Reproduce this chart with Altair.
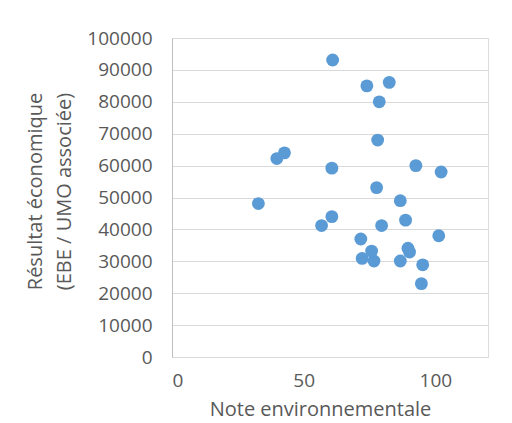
import altair as alt
import pandas as pd

note_env = [61, 74, 82.5, 78.7, 78.1, 42.7, 39.8, 60.7, 92.6, 102.2, 77.7, 86.7, 32.8,
            60.7, 56.8, 79.6, 88.7, 101.3, 71.7, 75.8, 89.6, 90.2, 72.2, 76.7, 86.7, 95.2, 94.7]
resultat = [93100, 85000, 86100, 80000, 68000, 64000, 62200, 59200, 60000, 58000, 53100,
            49000, 48100, 44000, 41200, 41200, 42900, 38000, 37000, 33200, 34100, 32900,
            30900, 30100, 30100, 28900, 23000]
x_ticks = [0, 50, 100]
y_ticks = [0, 10000, 20000, 30000, 40000, 50000, 60000, 70000, 80000, 90000, 100000]

df = pd.DataFrame({"note": note_env, "res": resultat})

FONT = "Open Sans"
GRAY = "#595959"

chart = alt.Chart(df).mark_circle(size=165, color="#5B9BD5", opacity=1).encode(
    x=alt.X("note:Q",
            scale=alt.Scale(domain=[0, 120], nice=False),
            axis=alt.Axis(values=x_ticks, grid=False, ticks=False, domain=False,
                          format="d",
                          labelFontSize=19, labelColor=GRAY, labelFont=FONT,
                          labelPadding=14,
                          title="Note environnementale", titleFontSize=20,
                          titleFont=FONT, titleColor=GRAY, titleFontWeight="normal",
                          titleX=148, titleY=58,
                          titleAlign="center", titleBaseline="alphabetic")),
    y=alt.Y("res:Q",
            scale=alt.Scale(domain=[0, 100000], nice=False),
            axis=alt.Axis(values=y_ticks, grid=True, gridColor="#D9D9D9",
                          format="d",
                          ticks=False, domain=True, domainColor="#BFBFBF",
                          labelFontSize=19, labelColor=GRAY, labelFont=FONT,
                          labelPadding=20,
                          title=["Résultat économique", "(EBE / UMO associée)"],
                          titleFontSize=20, titleFont=FONT, titleColor=GRAY,
                          titleFontWeight="normal", titleLineHeight=29,
                          titleAngle=270, titleX=-147, titleY=153,
                          titleAlign="center", titleBaseline="top")),
).properties(
    width=316, height=319,
    autosize=alt.AutoSizeParams(type="none"),
    padding={"left": 164, "top": 30, "right": 8, "bottom": 70},
).configure_view(stroke=None).configure(background="white")

chart.save("out.html", embed_options={"renderer": "svg", "actions": False})
